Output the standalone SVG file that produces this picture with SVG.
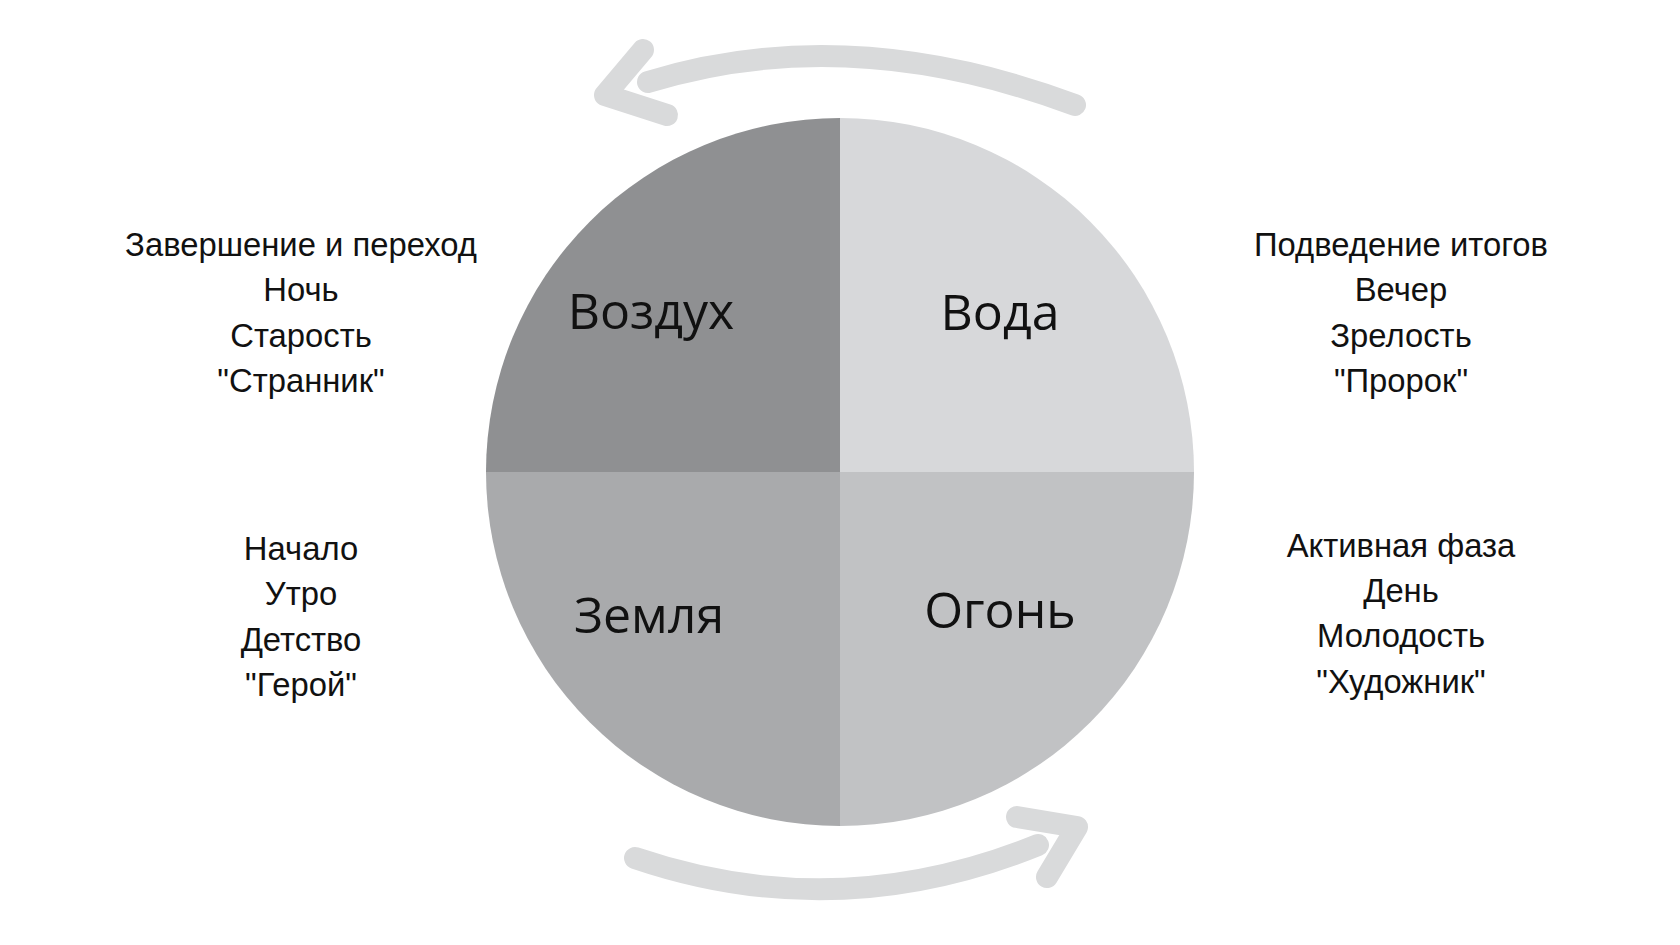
<svg xmlns="http://www.w3.org/2000/svg" width="1680" height="945" viewBox="0 0 1680 945">
<style>
.lbl{font-family:"Open Sans","Noto Sans",sans-serif;font-size:50px;fill:#111;text-anchor:middle}
.side{font-family:"Liberation Sans",Arial,sans-serif;font-size:32.8px;fill:#111;text-anchor:middle}
.arr{fill:none;stroke:#d9dadb;stroke-width:22;stroke-linecap:round;stroke-linejoin:round}
</style>
<rect width="1680" height="945" fill="#ffffff"/>
<g id="connectors">
<path class="arr" d="M648,82 Q848.5,20.5 1075,105"/>
<polyline class="arr" points="643,50 605,95 667,115"/>
<path class="arr" d="M635,858 Q836.5,926.5 1038,845"/>
<polyline class="arr" points="1017,817 1077,827 1047,877"/>
</g>
<g id="air">
<path d="M840,472 L486,472 A354,354 0 0 1 840,118 Z" fill="#8f9092"/>
<text class="lbl" x="651" y="329">Воздух</text>
</g>
<g id="water">
<path d="M840,472 L840,118 A354,354 0 0 1 1194,472 Z" fill="#d7d8da"/>
<text class="lbl" x="1000" y="330">Вода</text>
</g>
<g id="earth">
<path d="M840,472 L840,826 A354,354 0 0 1 486,472 Z" fill="#a9aaac"/>
<text class="lbl" x="649" y="633">Земля</text>
</g>
<g id="fire">
<path d="M840,472 L1194,472 A354,354 0 0 1 840,826 Z" fill="#c1c2c4"/>
<text class="lbl" x="1000" y="628">Огонь</text>
</g>
<g id="air-notes">
<text class="side" x="301" y="256">Завершение и переход</text>
<text class="side" x="301" y="301.3">Ночь</text>
<text class="side" x="301" y="346.5">Старость</text>
<text class="side" x="301" y="391.7">"Странник"</text>
</g>
<g id="water-notes">
<text class="side" x="1401" y="256">Подведение итогов</text>
<text class="side" x="1401" y="301.3">Вечер</text>
<text class="side" x="1401" y="346.5">Зрелость</text>
<text class="side" x="1401" y="391.7">"Пророк"</text>
</g>
<g id="earth-notes">
<text class="side" x="301" y="560">Начало</text>
<text class="side" x="301" y="605">Утро</text>
<text class="side" x="301" y="651">Детство</text>
<text class="side" x="301" y="696">"Герой"</text>
</g>
<g id="fire-notes">
<text class="side" x="1401" y="557">Активная фаза</text>
<text class="side" x="1401" y="602">День</text>
<text class="side" x="1401" y="647">Молодость</text>
<text class="side" x="1401" y="693">"Художник"</text>
</g>
</svg>
